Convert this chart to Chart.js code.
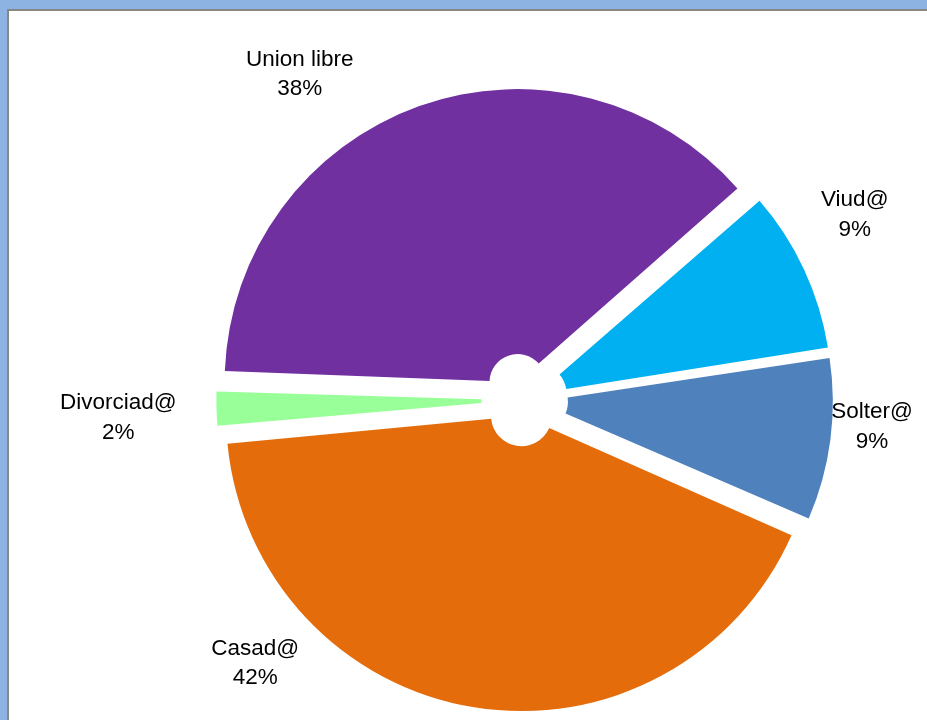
<!DOCTYPE html>
<html>
<head>
<meta charset="utf-8">
<script src="https://cdn.jsdelivr.net/npm/chart.js@4"></script>
<style>
    body { margin: 0; background: #8db3e2; width: 927px; height: 720px; overflow: hidden; }
    #panel { position: absolute; left: 7px; top: 9px; right: 0; bottom: 0; background: #ffffff;
             border-left: 2px solid #878787; border-top: 2px solid #878787; }
    #chart_box { position: absolute; left: 0; top: 0; width: 927px; height: 720px; }
</style>
</head>
<body>
<div id="panel"></div>
<div id="chart_box"><canvas id="estadoChart"></canvas></div>
<script>
// ====================================================== 데이터 ========================================================
// 항목 이름
let estadoLabels = ['Union libre', 'Viud@', 'Solter@', 'Casad@', 'Divorciad@'];

// 항목별 비율 (%)
let estadoValues = [38, 9, 9, 42, 2];

// 조각 색
let estadoColors = ['#7030a0', '#00b0f0', '#4f81bd', '#e46c0a', '#99ff99'];

// 조각 분리 정도
let estadoOffsets = [76, 60, 60, 64, 44];

// 라벨 위치 (중심 기준 각도, 거리)
let labelAngles = [-124.4, -29.5, 4.1, 135.8, 177.7];
let labelDists = [397, 380, 349, 375, 406];

// ====================================================== 라벨 ========================================================
// 조각 바깥쪽에 이름 + 퍼센트 두 줄 출력
const outsideLabels = {
    id: 'outsideLabels',
    afterDatasetsDraw(chart) {
        let ctx = chart.ctx;
        let meta = chart.getDatasetMeta(0);
        let total = estadoValues.reduce((a, b) => a + b, 0);

        ctx.save();
        ctx.fillStyle = '#000000';
        ctx.font = '22.5px "Liberation Sans", Arial, sans-serif';
        ctx.textAlign = 'center';
        ctx.textBaseline = 'middle';

        meta.data.forEach((arc, i) => {
            let rad = labelAngles[i] * Math.PI / 180;
            let x = arc.x + Math.cos(rad) * labelDists[i];
            let y = arc.y + Math.sin(rad) * labelDists[i];
            let pct = Math.round(estadoValues[i] / total * 100) + '%';
            ctx.fillText(estadoLabels[i], x, y - 13);
            ctx.fillText(pct, x, y + 16.5);
        });
        ctx.restore();
    }
};

// ====================================================== 차트 ========================================================
const estadoCt = document.getElementById('estadoChart');

let estadoChart = new Chart(estadoCt, {
    type: 'doughnut',
    data: {
        labels: estadoLabels,
        datasets: [{
            data: estadoValues,
            backgroundColor: estadoColors,
            borderWidth: 0,
            offset: estadoOffsets,
            hoverOffset: 0
        }]
    },
    options: {
        responsive: true,
        maintainAspectRatio: false,
        animation: false,
        radius: 287,
        cutout: '7.7%',
        rotation: -88,
        layout: {
            padding: { left: 204, right: 83, top: 80, bottom: 0 }
        },
        plugins: {
            legend: { display: false },
            tooltip: { enabled: false }
        }
    },
    plugins: [outsideLabels]
});
</script>
</body>
</html>
